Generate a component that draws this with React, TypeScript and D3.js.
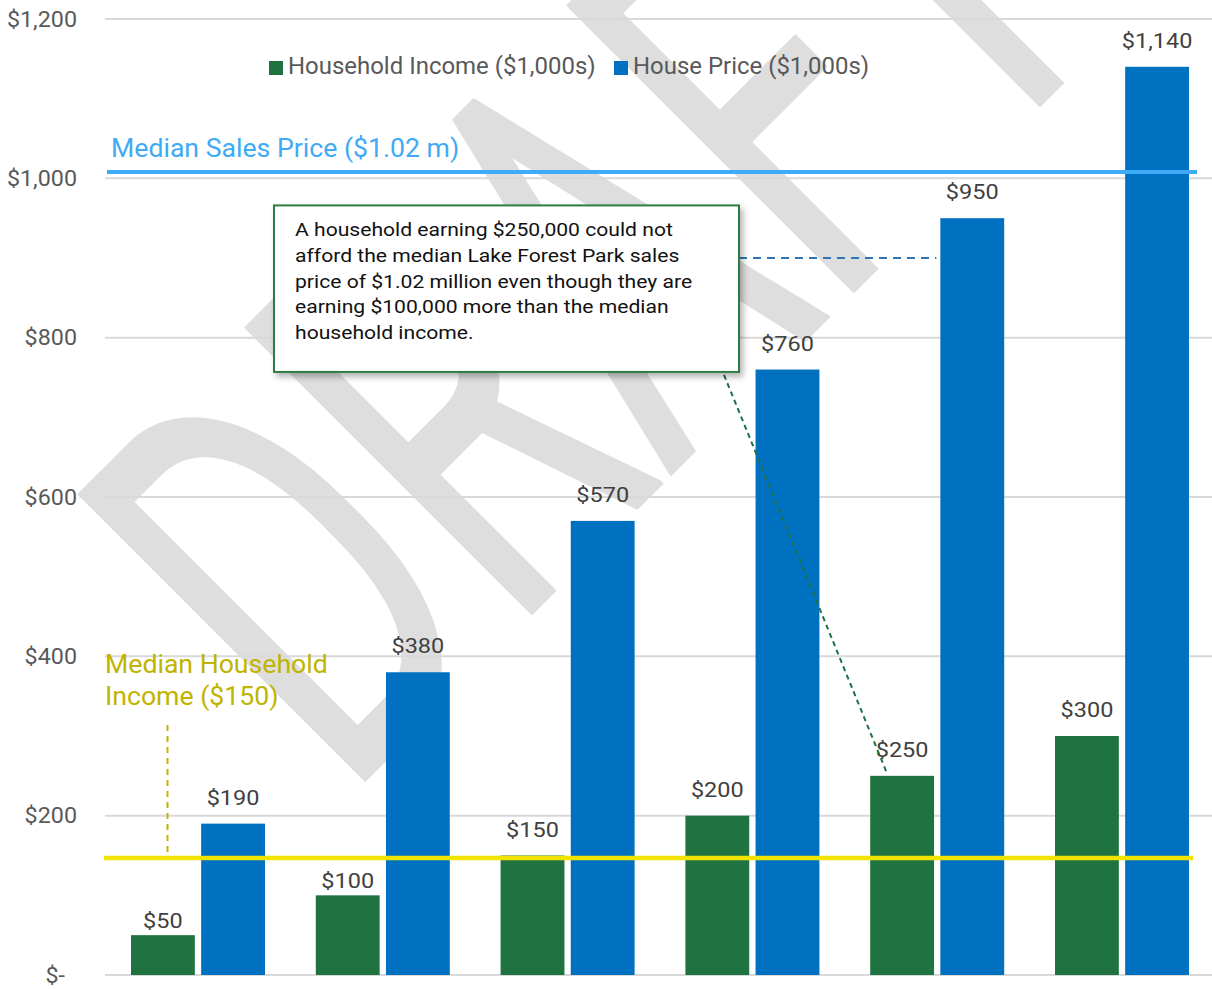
import React from 'react';
import * as d3 from 'd3';

// values in $1,000s
const groups = ['g1', 'g2', 'g3', 'g4', 'g5', 'g6'];
const incomeValues = [50, 100, 150, 200, 250, 300];
const priceValues = [190, 380, 570, 760, 950, 1140];
const yTicks = [0, 200, 400, 600, 800, 1000, 1200];
const seriesKeys = ['income', 'price'];
const seriesNames = ['Household Income ($1,000s)', 'House Price ($1,000s)'];
const seriesColors = ['#1F7340', '#0070C0'];

// reference lines (where they sit on the y axis)
const medianSalesPrice = 1008;
const medianIncome = 147;
const affordLevel = 900;

const noteLines = [
  'A household earning $250,000 could not',
  'afford the median Lake Forest Park sales',
  'price of $1.02 million even though they are',
  'earning $100,000 more than the median',
  'household income.',
];

const W = 1212;
const H = 989;
const font = 'Roboto, sans-serif';

// text that is a bit wider than it is tall, like the source
const Label: React.FC<{
  x: number; y: number; size: number; sx?: number; fill: string;
  anchor?: 'start' | 'middle' | 'end'; children: React.ReactNode;
}> = ({ x, y, size, sx = 1, fill, anchor = 'start', children }) => (
  <text
    transform={`translate(${x},${y}) scale(${sx},1)`}
    textAnchor={anchor}
    fontFamily={font}
    fontSize={size}
    fill={fill}
  >
    {children}
  </text>
);

const App: React.FC = () => {
  const y = d3.scaleLinear().domain([0, 1200]).range([975, 19]);

  const x0 = d3.scaleBand<string>()
    .domain(groups)
    .range([105.6, 1214.4])
    .paddingInner(0.275)
    .paddingOuter(0.1375);

  const x1 = d3.scaleBand<string>()
    .domain(seriesKeys)
    .range([0, x0.bandwidth()])
    .paddingInner(0.09);

  const fmt = (v: number) => (v === 0 ? '$-' : '$' + d3.format(',')(v));

  const bars = groups.flatMap((g, i) => [
    { g, key: 'income', v: incomeValues[i], color: seriesColors[0] },
    { g, key: 'price', v: priceValues[i], color: seriesColors[1] },
  ]);

  // annotation box
  const box = { x: 274, y: y(966), w: 465, h: y(757) - y(966) };
  const incomeBar5 = (x0('g5') ?? 0) + (x1('income') ?? 0);
  const priceBar5 = (x0('g5') ?? 0) + (x1('price') ?? 0);

  return (
    <svg
      width={W}
      height={H}
      viewBox={`0 0 ${W} ${H}`}
      style={{ position: 'absolute', left: 0, top: 0, background: '#fff' }}
    >
      <defs>
        <filter id="shadow" x="-10%" y="-10%" width="130%" height="140%">
          <feDropShadow dx="3" dy="4" stdDeviation="3" floodColor="#000" floodOpacity="0.3" />
        </filter>
      </defs>

      {/* watermark */}
      <text
        transform="translate(344,802) rotate(-45) scale(0.63,1)"
        fontFamily={font}
        fontSize={570}
        fill="#dedede"
        stroke="#dedede"
        strokeWidth={2}
        strokeLinejoin="round"
      >
        DRAFT
      </text>

      {/* grid */}
      {yTicks.map((t) => (
        <g key={t}>
          <line x1={105} x2={W} y1={y(t)} y2={y(t)} stroke="#d9d9d9" strokeWidth={2} />
          <Label x={t === 0 ? 65 : 77} y={y(t) + 7.5} size={22} sx={1.06} anchor="end" fill="#595959">
            {fmt(t)}
          </Label>
        </g>
      ))}

      {/* bars */}
      {bars.map((b) => {
        const bx = (x0(b.g) ?? 0) + (x1(b.key) ?? 0);
        const top = y(b.v);
        const lift = b.v < 120 ? 7 : 19;
        return (
          <g key={b.g + b.key}>
            <rect x={bx} y={top} width={x1.bandwidth()} height={y(0) - top} fill={b.color} />
            <Label x={bx + x1.bandwidth() / 2} y={top - lift} size={21} sx={1.12} anchor="middle" fill="#404040">
              {fmt(b.v)}
            </Label>
          </g>
        );
      })}

      {/* median sales price */}
      <line x1={107} x2={1197} y1={y(medianSalesPrice)} y2={y(medianSalesPrice)} stroke="#3FAAF5" strokeWidth={4} />
      <Label x={111} y={157} size={26} sx={1.025} fill="#3FAAF5">
        Median Sales Price ($1.02 m)
      </Label>

      {/* median household income */}
      <line x1={104} x2={1193} y1={y(medianIncome)} y2={y(medianIncome)} stroke="#F0E400" strokeWidth={4.5} />
      <line x1={167.5} x2={167.5} y1={725} y2={y(medianIncome) - 3} stroke="#BFB400" strokeWidth={2} strokeDasharray="6,5" />
      <Label x={105} y={673} size={26} sx={1.025} fill="#BFB400">Median Household</Label>
      <Label x={105} y={705} size={26} sx={1.025} fill="#BFB400">Income ($150)</Label>

      {/* connectors */}
      <line
        x1={box.x + box.w}
        x2={priceBar5 - 4}
        y1={y(affordLevel)}
        y2={y(affordLevel)}
        stroke="#2E75B6"
        strokeWidth={2}
        strokeDasharray="8,6"
      />
      <line
        x1={724}
        y1={box.y + box.h + 3}
        x2={incomeBar5 + 17}
        y2={y(250) - 2}
        stroke="#1E7145"
        strokeWidth={2}
        strokeDasharray="5,4"
      />

      {/* annotation */}
      <rect
        x={box.x}
        y={box.y}
        width={box.w}
        height={box.h}
        fill="#fff"
        stroke="#2E7D40"
        strokeWidth={2}
        filter="url(#shadow)"
      />
      {noteLines.map((l, i) => (
        <Label key={i} x={box.x + 21} y={box.y + 31 + i * 25.6} size={18.7} sx={1.13} fill="#111">
          {l}
        </Label>
      ))}

      {/* legend */}
      {seriesNames.map((name, i) => {
        const lx = i === 0 ? 269 : 614;
        return (
          <g key={name}>
            <rect x={lx} y={61} width={14} height={14} fill={seriesColors[i]} />
            <Label x={lx + 19} y={74} size={23.5} sx={1.02} fill="#595959">
              {name}
            </Label>
          </g>
        );
      })}
    </svg>
  );
};

export default App;
